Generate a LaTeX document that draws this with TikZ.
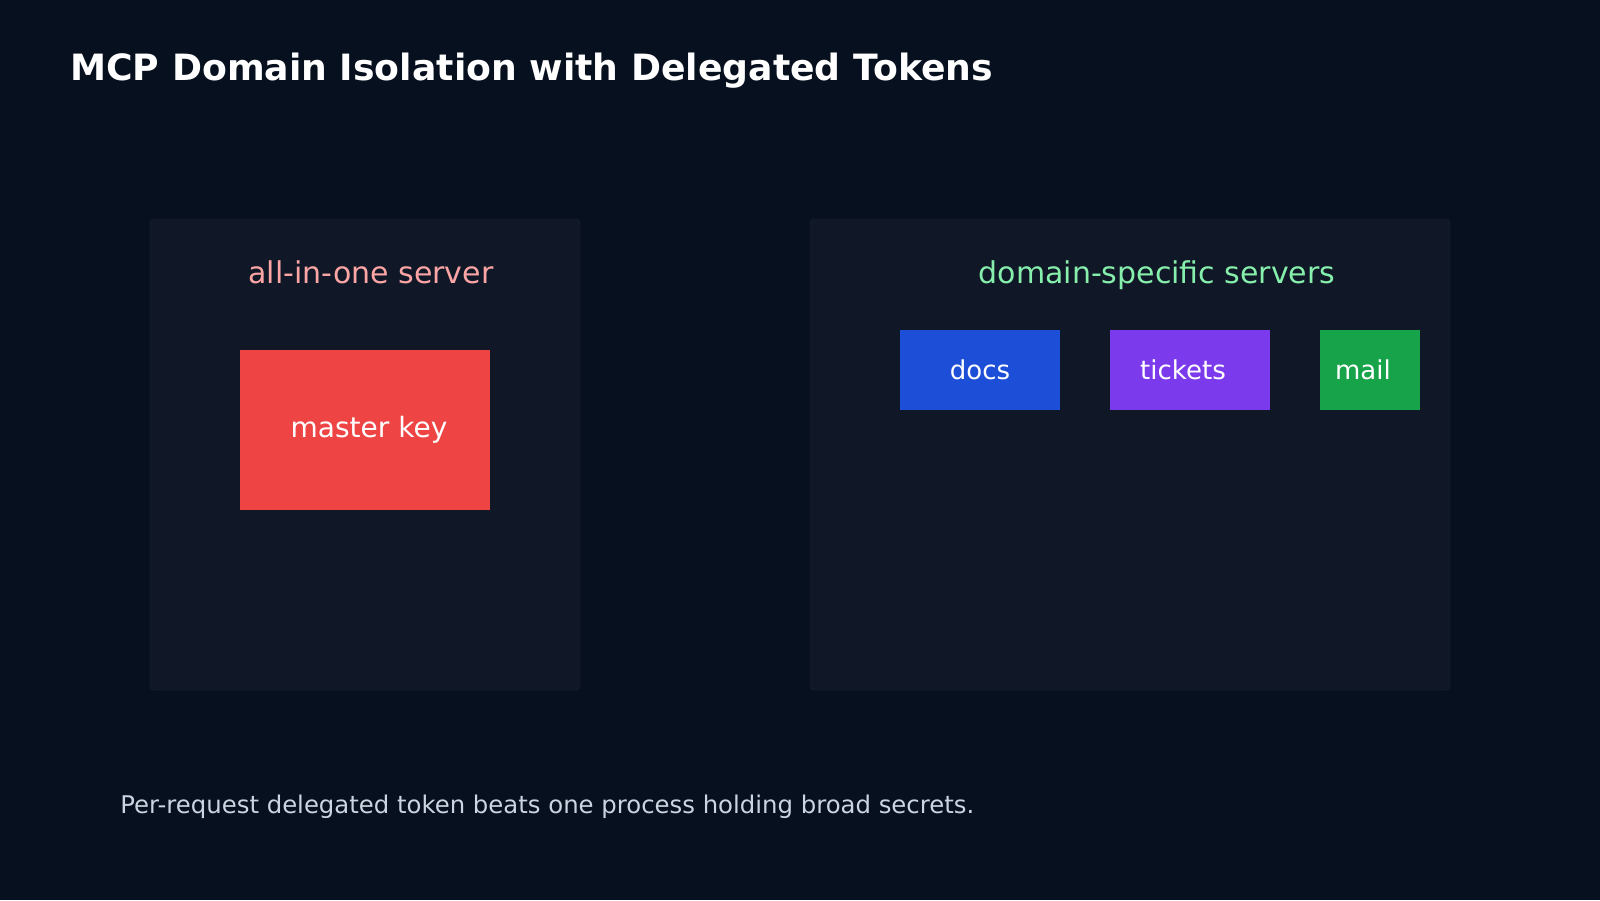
\documentclass[tikz,border=0pt]{standalone}
\usepackage{fontspec}
\setmainfont{DejaVu Sans}
\usetikzlibrary{positioning}
\definecolor{bgcol}{HTML}{07101F}
\definecolor{panelcol}{HTML}{101727}
\definecolor{panelline}{HTML}{151D2D}
\definecolor{keyred}{HTML}{EF4444}
\definecolor{docsblue}{HTML}{1D4ED8}
\definecolor{ticketsviolet}{HTML}{7C3AED}
\definecolor{mailgreen}{HTML}{16A34A}
\definecolor{redtitle}{HTML}{FCA5A5}
\definecolor{greentitle}{HTML}{86EFAC}
\definecolor{notecol}{HTML}{CBD5E1}

\begin{document}
\begin{tikzpicture}[x=0.5pt,y=-0.5pt,
    panelstyle/.style={rectangle,draw=panelline,fill=panelcol,rounded corners=2pt,minimum height=235.5pt},
    boxstyle/.style={rectangle,inner sep=0,outer sep=0,text=white,minimum height=40pt,font=\fontsize{13}{15}\selectfont},
    keystyle/.style={rectangle,inner sep=0,outer sep=0,fill=keyred,minimum width=125pt,minimum height=80pt},
    headstyle/.style={anchor=base,font=\fontsize{15}{18}\selectfont}]
    \fill[bgcol] (0,0) rectangle (1600,900);
    \useasboundingbox (0,0) rectangle (1600,900);
    \node[anchor=base west,inner sep=0,text=white,font=\bfseries\fontsize{18.1}{22}\selectfont] (title) at (70,80) {MCP Domain Isolation with Delegated Tokens};
    \begin{scope}
	\node[panelstyle,minimum width=215pt] (allinone) at (365,454.5) {};
	\node[headstyle,text=redtitle] (allinonehead) at (371,283) {all-in-one server};
	\node[keystyle,label={[text=white,font=\fontsize{14}{17}\selectfont,xshift=2pt]center:master key}] (masterkey) at (365,430) {};
    \end{scope}
    \begin{scope}
	\node[panelstyle,minimum width=320pt] (domains) at (1130,454.5) {};
	\node[headstyle,text=greentitle] (domainshead) at (1157,283) {domain-specific servers};
	\node[boxstyle,fill=docsblue,minimum width=80pt] (docs) at (980,370) {docs};
	\node[boxstyle,fill=ticketsviolet,minimum width=80pt,right=25pt of docs,label={[text=white,font=\fontsize{13}{15}\selectfont,xshift=-3.5pt]center:tickets}] (tickets) {};
	\node[boxstyle,fill=mailgreen,minimum width=50pt,right=25pt of tickets,label={[text=white,font=\fontsize{13}{15}\selectfont,xshift=-3.5pt]center:mail}] (mail) {};
    \end{scope}
    \node[anchor=base west,inner sep=0,text=notecol,font=\fontsize{12.18}{14}\selectfont] (note) at (120,813) {Per-request delegated token beats one process holding broad secrets.};
\end{tikzpicture}
\end{document}
